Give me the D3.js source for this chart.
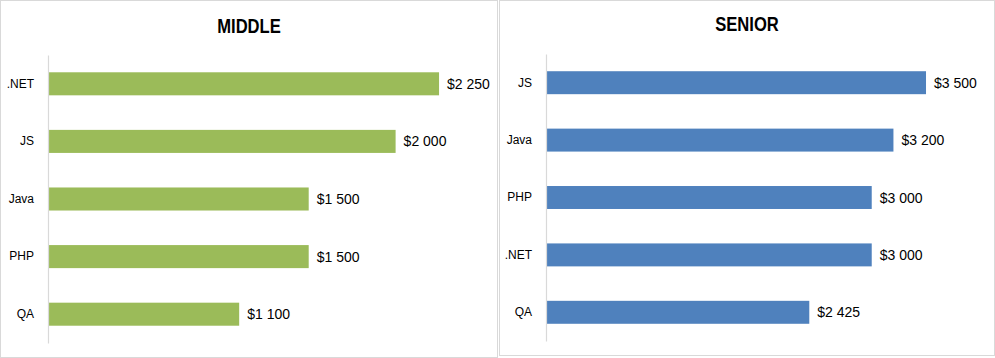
<!DOCTYPE html>
<html>
<head>
<meta charset="utf-8">
<script src="https://cdn.jsdelivr.net/npm/d3@7/dist/d3.min.js"></script>
<style>
  html, body { margin: 0; padding: 0; background: #fff; }
  svg { display: block; }
</style>
</head>
<body>
<svg id="chart" width="995" height="358"></svg>
<script>
// ---- Data ----
const middleTitle = "MIDDLE";
const middleCategories = [".NET", "JS", "Java", "PHP", "QA"];
const middleValues = [2250, 2000, 1500, 1500, 1100];

const seniorTitle = "SENIOR";
const seniorCategories = ["JS", "Java", "PHP", ".NET", "QA"];
const seniorValues = [3500, 3200, 3000, 3000, 2425];

// ---- Formatting ----
const locale = d3.formatLocale({ decimal: ".", thousands: "\u00a0", grouping: [3], currency: ["$", ""] });
const fmt = locale.format("$,");

const svg = d3.select("#chart");

function drawPanel(cfg) {
  const g = svg.append("g");
  // panel frame
  g.append("rect")
    .attr("x", cfg.frame[0]).attr("y", cfg.frame[1])
    .attr("width", cfg.frame[2]).attr("height", cfg.frame[3])
    .attr("fill", "#fff").attr("stroke", "#d9d9d9").attr("stroke-width", 1);

  // title (condensed look via horizontal scale)
  g.append("text")
    .attr("transform", `translate(${cfg.titleX},${cfg.titleY}) scale(0.83,1)`)
    .attr("text-anchor", "middle")
    .attr("font-family", "'Liberation Sans', Arial, sans-serif")
    .attr("font-weight", "bold")
    .attr("font-size", 20)
    .attr("fill", "#000")
    .text(cfg.title);

  const x = d3.scaleLinear().domain([0, cfg.xMax]).range(cfg.xRange);
  const y = d3.scaleBand().domain(cfg.categories).range(cfg.yRange)
    .paddingInner(0.6).paddingOuter(0.3);

  const data = cfg.categories.map((c, i) => ({ cat: c, val: cfg.values[i] }));

  // bars
  g.selectAll("rect.bar").data(data).join("rect")
    .attr("class", "bar")
    .attr("x", x(0))
    .attr("y", d => y(d.cat))
    .attr("width", d => x(d.val) - x(0))
    .attr("height", y.bandwidth())
    .attr("fill", cfg.color);

  // value labels
  g.selectAll("text.val").data(data).join("text")
    .attr("class", "val")
    .attr("x", d => x(d.val) + 8)
    .attr("y", d => y(d.cat) + y.bandwidth() / 2)
    .attr("dy", "0.36em")
    .attr("font-family", "'Liberation Sans', Arial, sans-serif")
    .attr("font-size", 14)
    .attr("fill", "#000")
    .text(d => fmt(d.val));

  // category axis
  const axis = g.append("g")
    .attr("transform", `translate(${x(0)},0)`)
    .call(d3.axisLeft(y).tickSize(0).tickPadding(14));
  axis.select(".domain").attr("stroke", "#d9d9d9").attr("stroke-width", 1.2);
  axis.selectAll("text")
    .attr("font-family", "'Liberation Sans', Arial, sans-serif")
    .attr("font-size", 12)
    .attr("fill", "#000");
}

drawPanel({
  title: middleTitle, categories: middleCategories, values: middleValues,
  color: "#9BBB59",
  frame: [0.5, 0.5, 497, 357],
  titleX: 249, titleY: 33,
  xMax: 2500, xRange: [48, 482.5],
  yRange: [55, 343]
});

drawPanel({
  title: seniorTitle, categories: seniorCategories, values: seniorValues,
  color: "#4F81BD",
  frame: [499.5, 0.5, 495, 355],
  titleX: 747, titleY: 31,
  xMax: 4000, xRange: [546, 980.3],
  yRange: [54, 341]
});
</script>
</body>
</html>
